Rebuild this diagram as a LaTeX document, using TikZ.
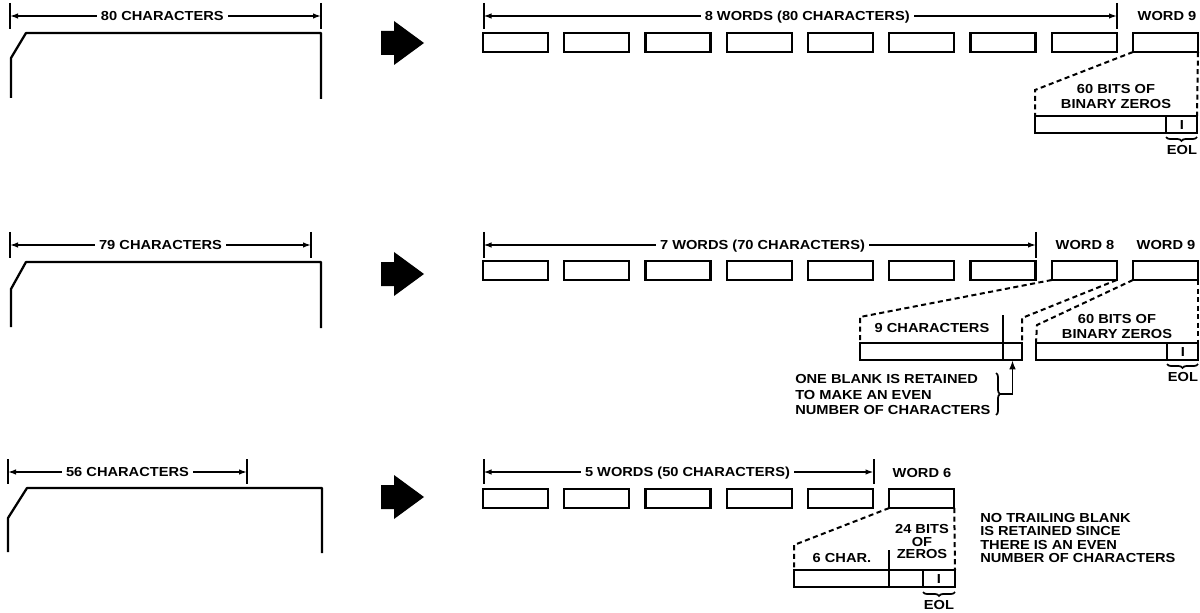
\documentclass[tikz,border=0pt]{standalone}
\usepackage{fontspec}
\setmainfont{Liberation Sans}[FakeStretch=1.12]
\usetikzlibrary{arrows.meta,decorations.pathreplacing}
\newcommand\lblfont{\fontsize{9.8}{10.6}\selectfont\bfseries}
\begin{document}
\begin{tikzpicture}[x=0.75pt,y=-0.75pt,
  lbl/.style={font=\lblfont, inner sep=0pt, text height=7pt, text depth=0pt},
  gaplbl/.style={lbl, fill=white, inner xsep=3pt},
  multi/.style={font=\lblfont, inner sep=0pt, align=center},
  word/.style={draw, line width=1.7pt, minimum width=48.75pt, minimum height=14.25pt, inner sep=0pt, outer sep=0pt, anchor=north west},
  cell/.style={draw, line width=1.7pt, minimum height=12.75pt, inner sep=0pt, outer sep=0pt, anchor=north west},
  cellline/.style={line width=1.6pt},
  dim/.style={line width=1.3pt, {Latex[length=6pt,width=4.2pt]}-{Latex[length=6pt,width=4.2pt]}},
  tickline/.style={line width=1.5pt},
  card/.style={line width=1.7pt, line join=round},
  zoomline/.style={dashed, dash pattern=on 3.8pt off 2.6pt, line width=1.5pt},
  bracestyle/.style={line width=1.3pt, decorate, decoration={brace, amplitude=3pt}},
  conn/.style={line width=1.4pt, -{Latex[length=7pt,width=5pt]}}
]
\useasboundingbox (0,0) rectangle (1200,613);

% ---------- big arrows ----------
\foreach \s in {0,231,454}{
  \fill[shift={(0,\s)}] (381,31) -- (394,31) -- (394,21) -- (424,43) -- (394,65) -- (394,55) -- (381,55) -- cycle;
}

% ================= ROW 1 =================
\coordinate (a1l) at (10,16); \coordinate (a1r) at (321,16);
\draw[tickline] (10,3) -- (10,29); \draw[tickline] (321,3) -- (321,29);
\draw[dim] (a1l) -- node[gaplbl,pos=0.49] (t1) {80 CHARACTERS} (a1r);
\draw[card] (321,99) -- (321,33) -- (26,33) -- (11,58) -- (11,98);

\foreach \i in {0,...,8}{\node[word] (r1b\i) at ({483+81.25*\i},33) {};}
\coordinate (d1l) at (483.5,16); \coordinate (d1r) at (1117,16);
\draw[tickline] (483.5,3) -- (483.5,29); \draw[tickline] (1117,3) -- (1117,29);
\draw[dim] (d1l) -- node[gaplbl,pos=0.511] (t1r) {8 WORDS (80 CHARACTERS)} (d1r);
\node[lbl] (w19) at (1167,16) {WORD 9};

\node[cell, minimum width=121.5pt] (r1c) at (1035,116) {};
\draw[cellline] (1166,116) -- (1166,133);
\node[lbl] (r1i) at (1182,124.5) {I};
\draw[bracestyle] (1197,137) -- (1166,137);
\node[lbl] (eol1) at (1182,150) {EOL};
\node[multi] (z1) at (1116,96.5) {60 BITS OF\\BINARY ZEROS};
\draw[zoomline] (r1b8.south west) -- (1035,90) -- (r1c.north west);
\draw[zoomline] (r1b8.south east) -- (r1c.north east);

% ================= ROW 2 =================
\coordinate (a2l) at (10,245); \coordinate (a2r) at (311,245);
\draw[tickline] (10,232) -- (10,258); \draw[tickline] (311,232) -- (311,258);
\draw[dim] (a2l) -- node[gaplbl,pos=0.5] (t2) {79 CHARACTERS} (a2r);
\draw[card] (321,328) -- (321,262) -- (26,262) -- (11,289) -- (11,327);

\foreach \i in {0,...,8}{\node[word] (r2b\i) at ({483+81.25*\i},261) {};}
\coordinate (d2l) at (483.5,245); \coordinate (d2r) at (1036,245);
\draw[tickline] (483.5,232) -- (483.5,258); \draw[tickline] (1036,232) -- (1036,258);
\draw[dim] (d2l) -- node[gaplbl,pos=0.505] (t2r) {7 WORDS (70 CHARACTERS)} (d2r);
\node[lbl] (w28) at (1085,245) {WORD 8};
\node[lbl] (w29) at (1166,245) {WORD 9};

\node[cell, minimum width=121.5pt] (r2A) at (860,343) {};
\draw[cellline] (1003,343) -- (1003,360);
\draw[cellline] (1003,315) -- (1003,343);
\node[lbl] (c9) at (932,328) {9 CHARACTERS};
\node[cell, minimum width=121.5pt] (r2B) at (1036,343) {};
\draw[cellline] (1167,343) -- (1167,360);
\node[lbl] (r2i) at (1183,351.5) {I};
\draw[bracestyle] (1198,364) -- (1167,364);
\node[lbl] (eol2) at (1183,377) {EOL};
\node[multi] (z2) at (1117,326.5) {60 BITS OF\\BINARY ZEROS};
\draw[zoomline] (r2b7.south west) -- (860,317) -- (r2A.north west);
\draw[zoomline] (r2b7.south east) -- (1022,318) -- (r2A.north east);
\draw[zoomline] (r2b8.south west) -- (1037,325) -- (r2B.north west);
\draw[zoomline] (r2b8.south east) -- (r2B.north east);

\node[multi, align=left, anchor=west, font={\fontsize{9.8}{11.6}\selectfont\bfseries}] (n2) at (795,394.5)
  {ONE BLANK IS RETAINED\\TO MAKE AN EVEN\\NUMBER OF CHARACTERS};
\draw[bracestyle] (996,373) -- (996,415);
\coordinate (bt) at (1000,394);
\coordinate (bc) at (1012.5,394);
\coordinate (bend) at (1012.5,360);
\draw[conn] (bt) -- (bc) -- (bend);

% ================= ROW 3 =================
\coordinate (a3l) at (8,472); \coordinate (a3r) at (247,472);
\draw[tickline] (8,459) -- (8,484); \draw[tickline] (247,459) -- (247,484);
\draw[dim] (a3l) -- node[gaplbl,pos=0.5] (t3) {56 CHARACTERS} (a3r);
\draw[card] (322,553) -- (322,488) -- (27,488) -- (8,518) -- (8,552);

\foreach \i in {0,...,5}{\node[word] (r3b\i) at ({483+81.25*\i},489) {};}
\coordinate (d3l) at (483.5,472); \coordinate (d3r) at (873.5,472);
\draw[tickline] (483.5,459) -- (483.5,484); \draw[tickline] (873.5,459) -- (873.5,484);
\draw[dim] (d3l) -- node[gaplbl,pos=0.523] (t3r) {5 WORDS (50 CHARACTERS)} (d3r);
\node[lbl] (w36) at (922,473) {WORD 6};

\node[cell, minimum width=120.75pt] (r3c) at (794,570) {};
\draw[cellline] (889,570) -- (889,587);
\draw[cellline] (923,570) -- (923,587);
\draw[cellline] (889,550) -- (889,570);
\node[lbl] (r3i) at (939,578.5) {I};
\draw[bracestyle] (955,592) -- (923,592);
\node[lbl] (eol3) at (939,605) {EOL};
\node[lbl] (c6) at (842,558) {6 CHAR.};
\node[multi, font={\fontsize{9.8}{9.3}\selectfont\bfseries}] (z3) at (922,541.7) {24 BITS\\OF\\ZEROS};
\draw[zoomline] (r3b5.south west) -- (794,545) -- (r3c.north west);
\draw[zoomline] (r3b5.south east) -- (r3c.north east);

\node[multi, align=left, anchor=west, font={\fontsize{9.8}{10.2}\selectfont\bfseries}] (n3) at (980,538)
  {NO TRAILING BLANK\\IS RETAINED SINCE\\THERE IS AN EVEN\\NUMBER OF CHARACTERS};
\end{tikzpicture}
\end{document}
